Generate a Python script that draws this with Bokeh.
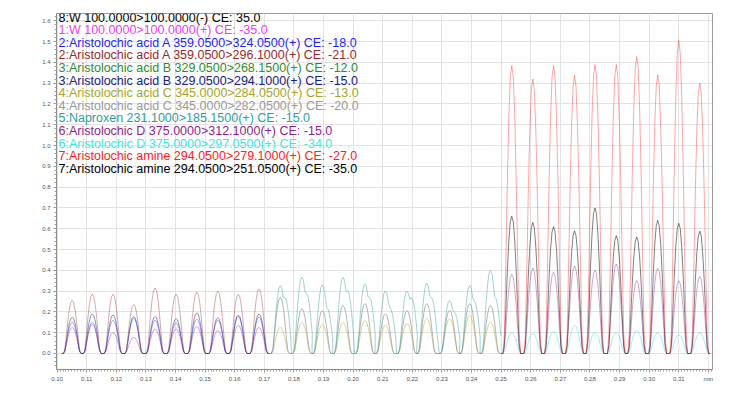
from bokeh.plotting import figure
from bokeh.models import Label, SingleIntervalTicker, CustomJSTickFormatter, Range1d
from bokeh.embed import file_html
from bokeh.resources import INLINE

# ---------------- data ----------------
# apex times (min) of the repeated injections
seg1_times = [0.1051, 0.1119, 0.1189, 0.1259, 0.1331, 0.1402, 0.1472, 0.1543, 0.1612, 0.1682]
seg2_times = [0.1754, 0.1827, 0.1896, 0.1966, 0.2040, 0.2109, 0.2182, 0.2249, 0.2326, 0.2394, 0.2464]
seg3_times = [0.2536, 0.2607, 0.2677, 0.2748, 0.2817, 0.2889, 0.2958, 0.3029, 0.3100, 0.3171]

# peak heights (x100,000)
aaa_296 = [0.255, 0.285, 0.285, 0.235, 0.315, 0.285, 0.295, 0.300, 0.285, 0.310]
aab_294 = [0.175, 0.190, 0.185, 0.178, 0.178, 0.167, 0.195, 0.172, 0.185, 0.190]
aaa_324 = [0.150, 0.150, 0.160, 0.170, 0.160, 0.148, 0.165, 0.160, 0.178, 0.175]
ad_312_s1 = [0.125, 0.140, 0.100, 0.078, 0.118, 0.118, 0.130, 0.110, 0.135, 0.125]

naproxen = [0.327, 0.367, 0.330, 0.367, 0.335, 0.300, 0.300, 0.338, 0.255, 0.327, 0.400]
naproxen_shoulder = [0.27, 0.29, 0.22, 0.30, 0.27, 0.22, 0.27, 0.27, 0.20, 0.25, 0.27]
aac_282 = [0.270, 0.215, 0.205, 0.230, 0.240, 0.190, 0.207, 0.240, 0.207, 0.240, 0.230]
aac_284 = [0.126, 0.150, 0.140, 0.150, 0.159, 0.135, 0.144, 0.168, 0.168, 0.183, 0.150]

aam_279 = [1.385, 1.320, 1.385, 1.337, 1.389, 1.389, 1.428, 1.340, 1.505, 1.300]
aam_251 = [0.660, 0.630, 0.610, 0.590, 0.700, 0.567, 0.560, 0.640, 0.626, 0.588]
ad_312_s3 = [0.380, 0.410, 0.390, 0.420, 0.400, 0.430, 0.350, 0.410, 0.350, 0.370]
ad_297 = [0.100, 0.095, 0.105, 0.135, 0.100, 0.100, 0.110, 0.100, 0.090, 0.100]

# shape of one chromatographic peak
profile_offsets = [-0.0035, -0.0030, -0.0025, -0.0020, -0.0015, -0.0010, -0.0005, 0.0,
                   0.0005, 0.0010, 0.0015, 0.0020, 0.0025, 0.0030, 0.0035]
profile_shape = [0.0, 0.0, 0.07, 0.32, 0.60, 0.82, 0.96, 1.0, 0.96, 0.82, 0.60, 0.32, 0.07, 0.0, 0.0]

legend_labels = [
    "8:W 100.0000>100.0000(-) CE: 35.0",
    "1:W 100.0000>100.0000(+) CE: -35.0",
    "2:Aristolochic acid A 359.0500>324.0500(+) CE: -18.0",
    "2:Aristolochic acid A 359.0500>296.1000(+) CE: -21.0",
    "3:Aristolochic acid B 329.0500>268.1500(+) CE: -12.0",
    "3:Aristolochic acid B 329.0500>294.1000(+) CE: -15.0",
    "4:Aristolochic acid C 345.0000>284.0500(+) CE: -13.0",
    "4:Aristolochic acid C 345.0000>282.0500(+) CE: -20.0",
    "5:Naproxen 231.1000>185.1500(+) CE: -15.0",
    "6:Aristolochic D 375.0000>312.1000(+) CE: -15.0",
    "6:Aristolochic D 375.0000>297.0500(+) CE: -34.0",
    "7:Aristolochic amine 294.0500>279.1000(+) CE: -27.0",
    "7:Aristolochic amine 294.0500>251.0500(+) CE: -35.0",
]
legend_colors = ["#000000", "#f03cf0", "#1f1fff", "#992a2a", "#2e8b2e", "#202080", "#a6a626",
                 "#999999", "#2e9e9e", "#8e1e8e", "#3ce6e6", "#ff2020", "#000000"]

SHIFT = 3


def build(times, heights, shoulders=None):
    xs, ys = [], []
    for k, (t, h) in enumerate(zip(times, heights)):
        for i, (dx, s) in enumerate(zip(profile_offsets, profile_shape)):
            v = h * s
            if shoulders is not None and i >= SHIFT:
                v = max(v, shoulders[k] * profile_shape[i - SHIFT])
            xs.append(t + dx)
            ys.append(v)
    return xs, ys


p = figure(width=756, height=397, output_backend="svg", toolbar_location=None,
           x_range=Range1d(0.0998, 0.3214), y_range=Range1d(-0.077, 1.635),
           min_border_left=56, min_border_right=44, min_border_top=13, min_border_bottom=28)
p.background_fill_color = "white"
p.border_fill_color = "white"
p.outline_line_color = "#9a9a9a"

traces = [
    (seg1_times, ad_312_s1, None, legend_colors[9], 0.4),
    (seg1_times, aaa_324, None, legend_colors[2], 0.4),
    (seg1_times, aab_294, None, legend_colors[5], 0.5),
    (seg1_times, aaa_296, None, legend_colors[3], 0.4),
    (seg2_times, aac_284, None, legend_colors[6], 0.45),
    (seg2_times, aac_282, None, legend_colors[7], 0.75),
    (seg2_times, naproxen, naproxen_shoulder, legend_colors[8], 0.45),
    (seg3_times, ad_297, None, legend_colors[10], 0.5),
    (seg3_times, ad_312_s3, None, legend_colors[9], 0.4),
    (seg3_times, aam_251, None, legend_colors[12], 0.5),
    (seg3_times, aam_279, None, legend_colors[11], 0.4),
]
for times, heights, sh, col, a in traces:
    xs, ys = build(times, heights, sh)
    p.line(xs, ys, line_color=col, line_width=1, line_alpha=a)

# axes
p.xaxis.ticker = SingleIntervalTicker(interval=0.01, num_minor_ticks=10)
p.yaxis.ticker = SingleIntervalTicker(interval=0.1, num_minor_ticks=5)
p.xaxis.formatter = CustomJSTickFormatter(code="return tick > 0.3195 ? 'min' : tick.toFixed(2);")
p.yaxis.formatter = CustomJSTickFormatter(code="return tick.toFixed(1);")
for ax in (p.xaxis[0], p.yaxis[0]):
    ax.axis_line_color = "#8a8a8a"
    ax.major_tick_line_color = "#8a8a8a"
    ax.minor_tick_line_color = "#a0a0a0"
    ax.major_tick_out = 3
    ax.major_tick_in = 0
    ax.minor_tick_out = 2
    ax.minor_tick_in = 0
    ax.major_label_text_font_size = "6px"
    ax.major_label_text_color = "#555555"
    ax.major_label_text_font = "Liberation Sans"
    ax.major_label_standoff = 3
p.xgrid.grid_line_color = "#e2e2e2"
p.ygrid.grid_line_color = "#e2e2e2"

# legend-like colored text lines
for i, (lab, col) in enumerate(zip(legend_labels, legend_colors)):
    p.add_layout(Label(x=2, y=352 - 12.6 * i, x_units="screen", y_units="screen", text=lab,
                       text_color=col, text_font="Liberation Sans", text_font_size="12.5px",
                       text_baseline="middle", text_align="left"))

p.add_layout(Label(x=-3, y=360, x_units="screen", y_units="screen", text="(x100,000)",
                   text_color="#555555", text_font="Liberation Sans", text_font_size="5px",
                   text_baseline="middle", text_align="left"))

open("out.html", "w").write(file_html(p, INLINE))
